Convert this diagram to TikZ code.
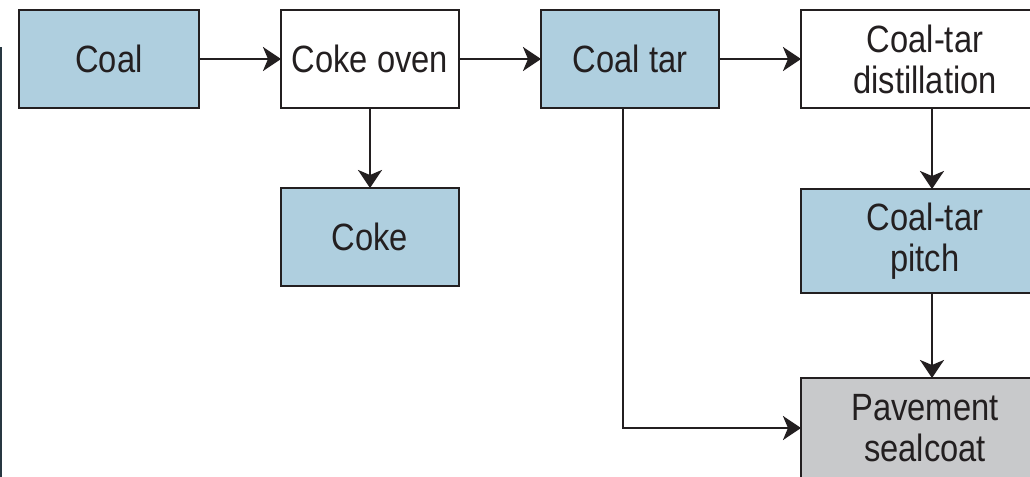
\documentclass[tikz,border=0pt]{standalone}
\usepackage{fontspec}
\setmainfont[FakeStretch=0.86]{Liberation Sans}
\usetikzlibrary{positioning,arrows.meta}
\definecolor{tarblue}{RGB}{175,207,223}
\definecolor{sealgray}{RGB}{200,201,203}
\definecolor{inkdark}{RGB}{35,31,32}
\definecolor{edgeslate}{RGB}{40,55,65}
\tikzset{
  stage/.style={
    rectangle,
    draw=inkdark,
    line width=1.4pt,
    text=inkdark,
    minimum width=89pt,
    minimum height=49pt,
    inner sep=0pt,
    outer sep=0pt,
    align=center,
    font=\fontsize{19pt}{20.5pt}\selectfont},
  widestage/.style={stage, minimum width=124pt},
  flow/.style={->, >={Stealth[length=9pt,width=12pt,inset=2.5pt]}, line width=1.4pt, draw=inkdark}
}

\begin{document}
\begin{tikzpicture}
  \useasboundingbox (0,0) rectangle (515pt,-238.5pt);
  \clip (0,0) rectangle (515pt,-238.5pt);
  \fill[edgeslate] (0,-23.5pt) rectangle (1.2pt,-238.5pt);

  \node[stage, fill=tarblue, minimum width=90pt] (coal) at (54.5pt,-29.5pt) {Coal};

  \node[stage, right=41pt of coal] (oven) {Coke oven};

  \node[stage, fill=tarblue, right=41pt of oven] (tar) {Coal tar};

  \node[widestage, right=41pt of tar] (dist) {Coal-tar\\distillation};

  \node[stage, fill=tarblue, below=40pt of oven] (coke) {Coke};

  \node[
  widestage,
  fill=tarblue,
  minimum height=52pt,
  below=40.5pt of dist] (pitch) {Coal-tar\\pitch};

  \node[
  widestage,
  fill=sealgray,
  minimum height=50pt,
  below=42.5pt of pitch] (pave) {Pavement\\sealcoat};


  \draw[flow] (coal)--(oven);
  \draw[flow] (oven)--(tar);
  \draw[flow] (tar)--(dist);
  \draw[flow] (oven)--(coke);
  \draw[flow] ([xshift=3.5pt]dist.south)--([xshift=3.5pt]pitch.north);
  \draw[flow] ([xshift=3.5pt]pitch.south)--([xshift=3.5pt]pave.north);
  \draw[flow] ([xshift=-3.5pt]tar.south) |- (pave.west);
\end{tikzpicture}
\end{document}
